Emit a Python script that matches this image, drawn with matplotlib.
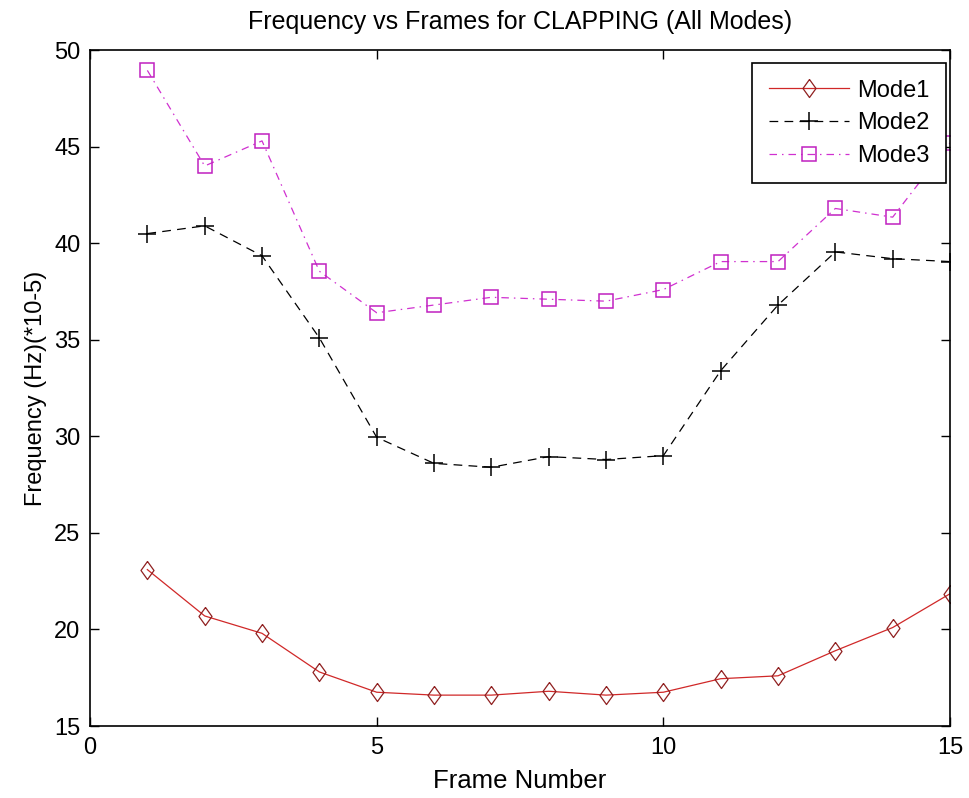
import numpy as np
import matplotlib
matplotlib.use("Agg")
import matplotlib.pyplot as plt

plt.rcParams['font.family'] = ['Liberation Sans', 'DejaVu Sans']

frames = np.arange(1, 16)
mode1 = [23.1, 20.7, 19.8, 17.8, 16.75, 16.6, 16.6, 16.8, 16.6, 16.75, 17.45, 17.6, 18.9, 20.1, 21.85]
mode2 = [40.5, 40.9, 39.35, 35.1, 29.95, 28.6, 28.4, 28.95, 28.8, 29.0, 33.4, 36.8, 39.55, 39.2, 39.05]
mode3 = [48.95, 44.0, 45.3, 38.55, 36.4, 36.8, 37.2, 37.1, 37.0, 37.6, 39.05, 39.05, 41.8, 41.35, 45.2]

# matlab style diamond, a bit wider than matplotlib's thin one
diamond = [(0, 1), (0.72, 0), (0, -1), (-0.72, 0), (0, 1)]

fig = plt.figure(figsize=(9.7, 7.98), dpi=100, facecolor="white")
ax = fig.add_axes([0.0928, 0.0902, 0.8866, 0.847])

ax.plot(frames, mode1, color="#d02828", linestyle="-", linewidth=0.9,
        marker=diamond, markersize=13, markerfacecolor="none", markeredgecolor="#902020",
        markeredgewidth=0.9, label="Mode1")
ax.plot(frames, mode2, color="black", linestyle=(0, (7, 5)), linewidth=0.9,
        marker="+", markersize=12.5, markeredgewidth=1.1, label="Mode2")
ax.plot(frames, mode3, color="#d030d0", linestyle=(0, (6, 4, 1.2, 4)), linewidth=0.9,
        marker="s", markersize=10.5, markerfacecolor="none", markeredgecolor="#c020c0",
        markeredgewidth=1.1, label="Mode3")

ax.set_xlim(0, 15)
ax.set_ylim(15, 50)
ax.set_xticks([0, 5, 10, 15])
ax.set_yticks(np.arange(15, 51, 5))
ax.tick_params(direction="in", length=6.5, width=1, top=True, right=True, labelsize=17)
ax.tick_params(axis="x", pad=8)
ax.tick_params(axis="y", pad=7)
for s in ax.spines.values():
    s.set_linewidth(1.2)

ax.set_title("Frequency vs Frames for CLAPPING (All Modes)", fontsize=18, pad=15)
ax.set_xlabel("Frame Number", fontsize=18.5, labelpad=7)
ax.set_ylabel("Frequency (Hz)(*10-5)", fontsize=17, labelpad=5)

leg = ax.legend(loc="upper right", bbox_to_anchor=(0.9953, 0.9808), fontsize=17,
                fancybox=False, framealpha=1, edgecolor="black", borderaxespad=0,
                handlelength=3.4, borderpad=0.7, labelspacing=0.45, handletextpad=0.35)
leg.get_frame().set_linewidth(1.2)

fig.savefig("out.png", dpi=100)
